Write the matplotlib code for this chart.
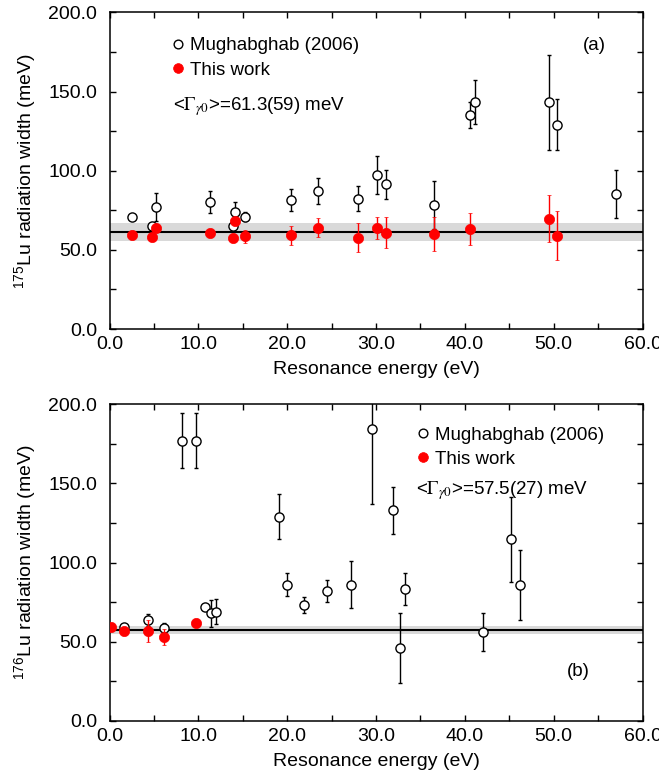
import matplotlib
matplotlib.use("Agg")
import matplotlib.pyplot as plt
from matplotlib.ticker import MultipleLocator, FormatStrFormatter

plt.rcParams['font.family'] = ['Liberation Sans', 'DejaVu Sans']
plt.rcParams['mathtext.fontset'] = 'custom'
plt.rcParams['mathtext.rm'] = 'Liberation Sans'
plt.rcParams['mathtext.it'] = 'Liberation Sans:italic'
plt.rcParams['mathtext.bf'] = 'Liberation Sans:bold'

# ---------------- Panel (a): 175Lu ----------------
a_mug_E = [2.57, 4.75, 5.28, 11.29, 13.9, 14.1, 15.3, 20.45, 23.5, 27.96, 30.1,
           31.1, 36.56, 40.62, 41.1, 49.5, 50.4, 57.0]
a_mug_G = [71.0, 65.0, 77.0, 80.3, 65.0, 74.0, 71.0, 81.3, 87.2, 82.3, 97.3,
           91.4, 78.4, 135.2, 143.4, 143.4, 129.1, 85.3]
a_mug_err = [1.5, 1.5, 9.0, 7.0, 1.5, 6.5, 3.0, 7.0, 8.0, 8.0, 12.0,
             9.0, 15.0, 8.0, 14.0, 30.0, 16.0, 15.0]

a_tw_E = [2.57, 4.75, 5.28, 11.29, 13.9, 14.1, 15.3, 20.45, 23.5, 27.96, 30.1,
          31.1, 36.56, 40.62, 49.5, 50.4]
a_tw_G = [59.4, 57.9, 63.6, 60.9, 57.5, 68.2, 58.6, 59.2, 64.0, 57.7, 63.8,
          60.9, 60.0, 63.0, 69.7, 59.0]
a_tw_err = [1.0, 1.0, 1.0, 1.0, 1.0, 1.0, 4.0, 6.0, 6.0, 9.0, 7.0,
            10.0, 10.5, 10.0, 15.0, 15.6]
a_mean, a_mean_err = 61.3, 5.9

# ---------------- Panel (b): 176Lu ----------------
b_mug_E = [1.63, 4.37, 6.14, 8.13, 9.75, 10.8, 11.47, 11.93, 19.1, 20.0, 21.86,
           24.5, 27.2, 29.6, 31.87, 32.7, 33.3, 42.09, 45.16, 46.25]
b_mug_G = [59.2, 63.8, 58.9, 177.0, 177.0, 72.0, 68.0, 69.0, 129.0, 86.1, 73.0,
           82.1, 86.1, 184.2, 133.0, 45.9, 83.2, 56.0, 114.7, 85.9]
b_mug_err = [1.5, 4.0, 3.0, 17.5, 17.5, 1.5, 8.4, 8.0, 14.2, 7.4, 5.0,
             7.0, 15.0, 47.4, 15.0, 22.0, 10.0, 12.0, 27.0, 22.0]

b_tw_E = [0.17, 1.63, 4.37, 6.14, 9.75]
b_tw_G = [59.6, 56.6, 56.6, 53.0, 61.7]
b_tw_err = [1.0, 1.0, 7.0, 5.0, 1.0]
b_mean, b_mean_err = 57.5, 2.7

xticklabels_step = 10
yticklabels_step = 50

fig = plt.figure(figsize=(6.59, 7.76), dpi=100)
ax_a = fig.add_axes([0.1662, 0.5760, 0.8088, 0.4079])
ax_b = fig.add_axes([0.1662, 0.0709, 0.8088, 0.4081])

FS = 14
LFS = 13.5


def draw(ax, mE, mG, mErr, tE, tG, tErr, mean, merr, ylabel):
    ax.axhspan(mean - merr, mean + merr, color='#d9d9d9', lw=0, zorder=1)
    ax.axhline(mean, color='black', lw=1.5, zorder=2)
    ax.errorbar(mE, mG, yerr=mErr, fmt='o', ms=6.6, mfc='white', mec='black',
                mew=1.0, ecolor='black', elinewidth=1.0, capsize=1.2,
                capthick=1.0, zorder=3, label='Mughabghab (2006)')
    ax.errorbar(tE, tG, yerr=tErr, fmt='o', ms=7.4, mfc='red', mec='red',
                mew=0.5, ecolor='red', elinewidth=1.0, capsize=1.2,
                capthick=1.0, zorder=4, label='This work')
    ax.set_xlim(0, 60)
    ax.set_ylim(0, 200)
    ax.xaxis.set_major_locator(MultipleLocator(xticklabels_step))
    ax.xaxis.set_minor_locator(MultipleLocator(5))
    ax.yaxis.set_major_locator(MultipleLocator(yticklabels_step))
    ax.yaxis.set_minor_locator(MultipleLocator(25))
    ax.xaxis.set_major_formatter(FormatStrFormatter('%.1f'))
    ax.yaxis.set_major_formatter(FormatStrFormatter('%.1f'))
    ax.tick_params(which='both', direction='in', top=True, right=True,
                   labelsize=FS, width=1.0, length=4)
    ax.tick_params(axis='x', which='major', pad=5)
    ax.tick_params(axis='y', which='major', pad=9)
    for s in ax.spines.values():
        s.set_linewidth(1.1)
    ax.set_xlabel('Resonance energy (eV)', fontsize=FS)
    ax.set_ylabel(ylabel, fontsize=FS)
    ax.xaxis.set_label_coords(0.5, -0.128)
    ax.xaxis.label.set_va('center')
    ax.yaxis.set_label_coords(-0.158, 0.5)
    ax.yaxis.label.set_va('center')


draw(ax_a, a_mug_E, a_mug_G, a_mug_err, a_tw_E, a_tw_G, a_tw_err,
     a_mean, a_mean_err, r'$^{175}$Lu radiation width (meV)')
draw(ax_b, b_mug_E, b_mug_G, b_mug_err, b_tw_E, b_tw_G, b_tw_err,
     b_mean, b_mean_err, r'$^{176}$Lu radiation width (meV)')


def legend(ax, x, y):
    h, l = ax.get_legend_handles_labels()
    hh = [hi[0] for hi in h]
    ax.legend(hh, l, loc='upper left', bbox_to_anchor=(x, y), frameon=False,
              fontsize=LFS, handlelength=0.6, handletextpad=0.35,
              labelspacing=0.38, borderpad=0, borderaxespad=0, markerscale=0.95)


legend(ax_a, 0.118, 0.922)
legend(ax_b, 0.578, 0.93)

ax_a.text(0.119, 0.702, r'<$\Gamma_{\gamma0}$>=61.3(59) meV', transform=ax_a.transAxes,
          fontsize=LFS, ha='left', va='center', math_fontfamily='stix')
ax_b.text(0.575, 0.727, r'<$\Gamma_{\gamma0}$>=57.5(27) meV', transform=ax_b.transAxes,
          fontsize=LFS, ha='left', va='center', math_fontfamily='stix')
ax_a.text(0.909, 0.897, '(a)', transform=ax_a.transAxes, fontsize=LFS,
          ha='center', va='center')
ax_b.text(0.880, 0.155, '(b)', transform=ax_b.transAxes, fontsize=LFS,
          ha='center', va='center')

fig.savefig('out.png', dpi=100)
